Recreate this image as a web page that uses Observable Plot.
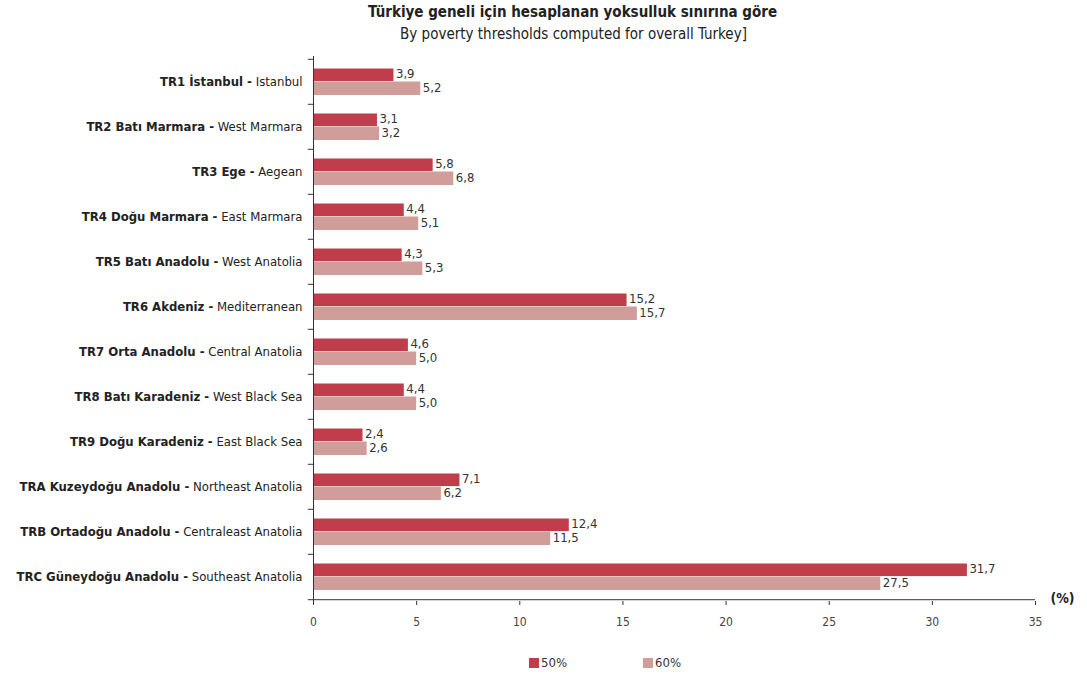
<!DOCTYPE html>
<html>
<head>
<meta charset="utf-8">
<script src="https://cdn.jsdelivr.net/npm/d3@7"></script>
<script src="https://cdn.jsdelivr.net/npm/@observablehq/plot@0.6"></script>
<style>
  body { margin: 0; background: #fff; font-family: "DejaVu Sans Condensed", "DejaVu Sans", sans-serif; color: #222; }
  #wrap { width: 1087px; position: relative; }
  .t1 { height: 24px; line-height: 24px; font-size: 15px; font-weight: bold; text-align: center; padding-left: 58px; box-sizing: border-box; }
  .t2 { height: 21px; line-height: 21px; font-size: 15px; text-align: center; padding-left: 60px; box-sizing: border-box; }
  #legend { position: relative; height: 37px; }
  .item { position: absolute; top: 17px; font-size: 13px; line-height: 14px; display: flex; align-items: center; color: #333; }
  .sw { width: 10px; height: 10px; margin-right: 2px; display: inline-block; }
</style>
</head>
<body>
<div id="wrap">
  <div class="t1">Türkiye geneli için hesaplanan yoksulluk sınırına göre</div>
  <div class="t2">By poverty thresholds computed for overall Turkey]</div>
  <div id="chart"></div>
  <div id="legend"></div>
</div>
<script>
const codes = ["TR1 İstanbul", "TR2 Batı Marmara", "TR3 Ege", "TR4 Doğu Marmara", "TR5 Batı Anadolu", "TR6 Akdeniz", "TR7 Orta Anadolu", "TR8 Batı Karadeniz", "TR9 Doğu Karadeniz", "TRA Kuzeydoğu Anadolu", "TRB Ortadoğu Anadolu", "TRC Güneydoğu Anadolu"];
const names = ["Istanbul", "West Marmara", "Aegean", "East Marmara", "West Anatolia", "Mediterranean", "Central Anatolia", "West Black Sea", "East Black Sea", "Northeast Anatolia", "Centraleast Anatolia", "Southeast Anatolia"];
const v50 = [3.9, 3.1, 5.8, 4.4, 4.3, 15.2, 4.6, 4.4, 2.4, 7.1, 12.4, 31.7];
const v60 = [5.2, 3.2, 6.8, 5.1, 5.3, 15.7, 5.0, 5.0, 2.6, 6.2, 11.5, 27.5];
const series = ["50%", "60%"];
const colors = ["#c03d4b", "#d09d9b"];
const xTicks = [0, 5, 10, 15, 20, 25, 30, 35];

const rows = codes.map((c, i) => ({code: c, label: c + " - " + names[i], v50: v50[i], v60: v60[i]}));
const fmt = d => d.toFixed(1).replace(".", ",");

const H = 594, MT = 11, MB = 38;
const bw = (H - MT - MB) / codes.length;
const font = '"DejaVu Sans Condensed", "DejaVu Sans", sans-serif';

const chart = Plot.plot({
  width: 1087, height: H,
  marginLeft: 313, marginRight: 52, marginTop: MT, marginBottom: MB,
  x: {domain: [0, 35]},
  y: {domain: codes, padding: 0, axis: null},
  style: {fontFamily: font, fontSize: "12px", color: "#222", background: "#fff"},
  marks: [
    Plot.barX(rows, {x: "v50", y: "code", fill: colors[0], insetTop: 9.5, insetBottom: bw - 22.5}),
    Plot.barX(rows, {x: "v60", y: "code", fill: colors[1], insetTop: 22.5, insetBottom: 9}),
    Plot.text(rows, {x: "v50", y: "code", text: d => fmt(d.v50), dx: 2, dy: -bw / 2 + 15, textAnchor: "start", fill: "#333", fontSize: 13}),
    Plot.text(rows, {x: "v60", y: "code", text: d => fmt(d.v60), dx: 2, dy: -bw / 2 + 29, textAnchor: "start", fill: "#333", fontSize: 13}),
    Plot.ruleX([0], {stroke: "#333"}),
    Plot.ruleY(codes, {dy: -bw / 2, x1: -0.25, x2: 0, stroke: "#333"}),
    Plot.ruleY([codes[codes.length - 1]], {dy: bw / 2, x1: -0.25, x2: 35, stroke: "#333"}),
    Plot.axisX({ticks: xTicks, tickSize: 4, tickPadding: 12, tickFormat: d => d, fontSize: 12, fill: "#444", stroke: "#333"}),
    Plot.text(rows, {x: 0, y: "code", text: "label", dx: -11, textAnchor: "end", fill: "#222", fontSize: 13}),
    Plot.text(["(%)"], {frameAnchor: "bottom-right", dx: 27, dy: 1, textAnchor: "middle", fontWeight: "bold", fontSize: 14, fill: "#222"})
  ]
});

chart.querySelectorAll("text").forEach(t => {
  const s = t.textContent;
  const i = s.indexOf(" - ");
  if (i < 0) return;
  while (t.firstChild) t.removeChild(t.firstChild);
  const b = document.createElementNS("http://www.w3.org/2000/svg", "tspan");
  b.setAttribute("font-weight", "bold");
  b.textContent = s.slice(0, i + 2);
  const n = document.createElementNS("http://www.w3.org/2000/svg", "tspan");
  n.textContent = s.slice(i + 2);
  t.appendChild(b);
  t.appendChild(n);
});

document.getElementById("chart").appendChild(chart);

const legend = document.getElementById("legend");
const lefts = [529, 643];
series.forEach((s, i) => {
  const it = document.createElement("div");
  it.className = "item";
  it.style.left = lefts[i] + "px";
  const sw = document.createElement("span");
  sw.className = "sw";
  sw.style.background = colors[i];
  it.appendChild(sw);
  it.appendChild(document.createTextNode(s));
  legend.appendChild(it);
});
</script>
</body>
</html>
